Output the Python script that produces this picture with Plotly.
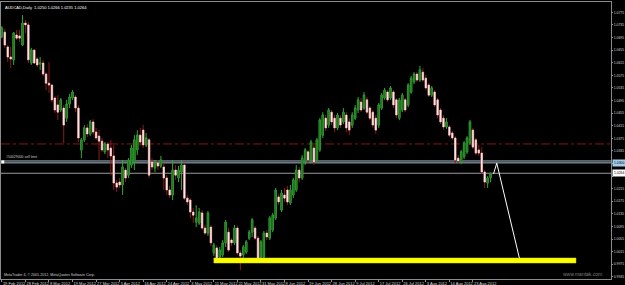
import plotly.graph_objects as go

# ---------------- data ----------------
date_labels = ["19 Feb 2012", "28 Feb 2012", "8 Mar 2012", "19 Mar 2012", "27 Mar 2012",
               "5 Apr 2012", "16 Apr 2012", "24 Apr 2012", "3 May 2012", "11 May 2012",
               "22 May 2012", "31 May 2012", "8 Jun 2012", "19 Jun 2012", "28 Jun 2012",
               "9 Jul 2012", "17 Jul 2012", "26 Jul 2012", "3 Aug 2012", "14 Aug 2012",
               "23 Aug 2012"]
date_bars = [0, 8, 16, 24, 32, 40, 48, 56, 64, 72, 80, 88, 96, 104, 112, 120, 128, 136, 144, 152, 160]

price_ticks = [1.0775, 1.0735, 1.0695, 1.0655, 1.0615, 1.0575, 1.0535, 1.0495, 1.0455, 1.0415,
               1.0375, 1.0335, 1.0295, 1.0255, 1.0215, 1.0175, 1.0135, 1.0095, 1.0055, 1.0015,
               0.9975, 0.9935]
# ticks hidden behind the order / bid price boxes on the price scale
covered_ticks = [1.0295, 1.0255]

opens = [1.0697, 1.0712, 1.0665, 1.0633, 1.0624, 1.0703, 1.0700, 1.0671, 1.0741, 1.0735,
         1.0614, 1.0655, 1.0627, 1.0611, 1.0614, 1.0579, 1.0550, 1.0544, 1.0503, 1.0481,
         1.0465, 1.0471, 1.0439, 1.0484, 1.0503, 1.0506, 1.0471, 1.0338, 1.0370, 1.0408,
         1.0389, 1.0427, 1.0395, 1.0382, 1.0366, 1.0332, 1.0357, 1.0344, 1.0319, 1.0233,
         1.0236, 1.0227, 1.0274, 1.0258, 1.0290, 1.0300, 1.0338, 1.0385, 1.0401, 1.0354,
         1.0370, 1.0300, 1.0281, 1.0297, 1.0287, 1.0284, 1.0249, 1.0211, 1.0195, 1.0274,
         1.0249, 1.0268, 1.0290, 1.0185, 1.0179, 1.0141, 1.0109, 1.0106, 1.0138, 1.0090,
         1.0074, 1.0093, 1.0011, 1.0027, 0.9998, 1.0005, 1.0043, 1.0077, 1.0052, 1.0043,
         1.0090, 1.0011, 1.0005, 1.0014, 1.0058, 1.0077, 1.0090, 1.0058, 0.9995, 0.9998,
         1.0074, 1.0058, 1.0084, 1.0122, 1.0189, 1.0147, 1.0195, 1.0211, 1.0170, 1.0195,
         1.0211, 1.0274, 1.0249, 1.0300, 1.0332, 1.0306, 1.0344, 1.0306, 1.0338, 1.0385,
         1.0439, 1.0417, 1.0458, 1.0439, 1.0408, 1.0439, 1.0427, 1.0449, 1.0427, 1.0417,
         1.0439, 1.0465, 1.0490, 1.0471, 1.0497, 1.0471, 1.0458, 1.0439, 1.0417, 1.0471,
         1.0503, 1.0522, 1.0503, 1.0522, 1.0497, 1.0439, 1.0465, 1.0497, 1.0481, 1.0522,
         1.0554, 1.0579, 1.0560, 1.0585, 1.0566, 1.0544, 1.0512, 1.0522, 1.0497, 1.0465,
         1.0439, 1.0411, 1.0411, 1.0392, 1.0376, 1.0312, 1.0300, 1.0316, 1.0332, 1.0360,
         1.0401, 1.0370, 1.0338, 1.0328, 1.0268, 1.0233, 1.0250]

highs = [1.0731, 1.0722, 1.0671, 1.0665, 1.0712, 1.0719, 1.0719, 1.0766, 1.0751, 1.0744,
         1.0662, 1.0658, 1.0633, 1.0633, 1.0624, 1.0585, 1.0617, 1.0547, 1.0509, 1.0512,
         1.0503, 1.0481, 1.0497, 1.0516, 1.0528, 1.0512, 1.0481, 1.0376, 1.0417, 1.0420,
         1.0433, 1.0436, 1.0408, 1.0401, 1.0376, 1.0363, 1.0363, 1.0370, 1.0354, 1.0243,
         1.0249, 1.0306, 1.0281, 1.0312, 1.0354, 1.0385, 1.0401, 1.0408, 1.0417, 1.0392,
         1.0376, 1.0312, 1.0306, 1.0306, 1.0319, 1.0297, 1.0258, 1.0224, 1.0306, 1.0290,
         1.0287, 1.0306, 1.0297, 1.0195, 1.0185, 1.0154, 1.0163, 1.0154, 1.0147, 1.0100,
         1.0144, 1.0100, 1.0043, 1.0036, 1.0030, 1.0052, 1.0116, 1.0090, 1.0058, 1.0100,
         1.0097, 1.0020, 1.0036, 1.0052, 1.0084, 1.0122, 1.0097, 1.0065, 1.0052, 1.0081,
         1.0084, 1.0128, 1.0138, 1.0217, 1.0198, 1.0211, 1.0217, 1.0224, 1.0227, 1.0249,
         1.0290, 1.0284, 1.0322, 1.0344, 1.0338, 1.0370, 1.0354, 1.0376, 1.0439, 1.0458,
         1.0449, 1.0471, 1.0465, 1.0449, 1.0455, 1.0449, 1.0471, 1.0458, 1.0439, 1.0458,
         1.0481, 1.0506, 1.0503, 1.0522, 1.0506, 1.0477, 1.0465, 1.0449, 1.0487, 1.0519,
         1.0535, 1.0528, 1.0541, 1.0528, 1.0503, 1.0503, 1.0519, 1.0503, 1.0550, 1.0573,
         1.0585, 1.0585, 1.0605, 1.0598, 1.0576, 1.0550, 1.0541, 1.0528, 1.0503, 1.0471,
         1.0449, 1.0439, 1.0417, 1.0398, 1.0382, 1.0322, 1.0338, 1.0366, 1.0382, 1.0433,
         1.0408, 1.0376, 1.0354, 1.0347, 1.0274, 1.0255, 1.0266]

lows = [1.0693, 1.0662, 1.0617, 1.0598, 1.0608, 1.0687, 1.0681, 1.0668, 1.0709, 1.0614,
        1.0608, 1.0611, 1.0601, 1.0592, 1.0573, 1.0528, 1.0519, 1.0490, 1.0455, 1.0433,
        1.0458, 1.0360, 1.0427, 1.0471, 1.0497, 1.0458, 1.0363, 1.0312, 1.0363, 1.0379,
        1.0382, 1.0385, 1.0370, 1.0306, 1.0332, 1.0325, 1.0312, 1.0258, 1.0211, 1.0205,
        1.0217, 1.0195, 1.0236, 1.0249, 1.0281, 1.0274, 1.0322, 1.0351, 1.0344, 1.0347,
        1.0249, 1.0274, 1.0268, 1.0274, 1.0281, 1.0211, 1.0195, 1.0185, 1.0179, 1.0243,
        1.0236, 1.0211, 1.0179, 1.0163, 1.0122, 1.0106, 1.0093, 1.0100, 1.0084, 1.0068,
        1.0065, 1.0033, 1.0001, 0.9982, 0.9989, 0.9998, 1.0030, 1.0014, 1.0033, 1.0036,
        1.0005, 0.9957, 0.9995, 1.0008, 1.0052, 1.0062, 1.0052, 0.9989, 0.9979, 0.9992,
        1.0052, 1.0052, 1.0077, 1.0116, 1.0163, 1.0141, 1.0173, 1.0163, 1.0163, 1.0185,
        1.0205, 1.0236, 1.0243, 1.0290, 1.0297, 1.0300, 1.0290, 1.0297, 1.0332, 1.0376,
        1.0398, 1.0408, 1.0417, 1.0395, 1.0401, 1.0408, 1.0420, 1.0395, 1.0385, 1.0408,
        1.0433, 1.0455, 1.0458, 1.0465, 1.0452, 1.0433, 1.0408, 1.0389, 1.0408, 1.0465,
        1.0497, 1.0490, 1.0497, 1.0471, 1.0439, 1.0433, 1.0458, 1.0458, 1.0474, 1.0516,
        1.0547, 1.0554, 1.0554, 1.0554, 1.0528, 1.0506, 1.0506, 1.0474, 1.0439, 1.0420,
        1.0401, 1.0405, 1.0379, 1.0370, 1.0297, 1.0297, 1.0293, 1.0309, 1.0325, 1.0354,
        1.0341, 1.0322, 1.0319, 1.0262, 1.0217, 1.0217, 1.0235]

closes = [1.0725, 1.0671, 1.0633, 1.0627, 1.0709, 1.0693, 1.0693, 1.0741, 1.0735, 1.0624,
          1.0655, 1.0614, 1.0608, 1.0614, 1.0579, 1.0550, 1.0544, 1.0497, 1.0465, 1.0458,
          1.0497, 1.0417, 1.0484, 1.0506, 1.0522, 1.0471, 1.0376, 1.0370, 1.0408, 1.0389,
          1.0427, 1.0395, 1.0376, 1.0366, 1.0338, 1.0357, 1.0338, 1.0319, 1.0233, 1.0220,
          1.0227, 1.0284, 1.0249, 1.0306, 1.0344, 1.0370, 1.0385, 1.0363, 1.0354, 1.0376,
          1.0258, 1.0284, 1.0297, 1.0287, 1.0306, 1.0249, 1.0211, 1.0195, 1.0274, 1.0258,
          1.0274, 1.0290, 1.0185, 1.0173, 1.0141, 1.0131, 1.0122, 1.0141, 1.0090, 1.0074,
          1.0138, 1.0043, 1.0036, 0.9995, 1.0020, 1.0043, 1.0109, 1.0020, 1.0043, 1.0090,
          1.0011, 1.0001, 1.0030, 1.0046, 1.0077, 1.0116, 1.0058, 0.9995, 1.0046, 1.0074,
          1.0062, 1.0122, 1.0131, 1.0211, 1.0173, 1.0201, 1.0185, 1.0173, 1.0211, 1.0243,
          1.0274, 1.0249, 1.0312, 1.0338, 1.0306, 1.0363, 1.0300, 1.0370, 1.0433, 1.0449,
          1.0408, 1.0465, 1.0427, 1.0408, 1.0449, 1.0417, 1.0458, 1.0408, 1.0401, 1.0449,
          1.0471, 1.0497, 1.0465, 1.0512, 1.0458, 1.0439, 1.0417, 1.0401, 1.0481, 1.0512,
          1.0528, 1.0497, 1.0535, 1.0481, 1.0449, 1.0497, 1.0512, 1.0465, 1.0544, 1.0566,
          1.0579, 1.0560, 1.0592, 1.0560, 1.0535, 1.0512, 1.0535, 1.0481, 1.0449, 1.0427,
          1.0411, 1.0427, 1.0385, 1.0376, 1.0306, 1.0303, 1.0332, 1.0360, 1.0376, 1.0427,
          1.0347, 1.0328, 1.0328, 1.0268, 1.0236, 1.0249, 1.0264]

bars = list(range(len(closes)))

resistance_level = 1.0357          # red dash-dot line
sell_limit_level = 1.0300          # pending order line
sell_limit_band = [1.0303, 1.0297]
bid_level = 1.0264
support_zone = [0.9979, 0.9995]    # yellow zone (price)
support_zone_bars = [72.0, 195.0]
projection_bars = [167.0, 168.1, 175.8]
projection_prices = [1.0262, 1.0296, 0.9994]
order_marker_bar = [0.3]
order_marker_price = [1.0300]

title_text = "AUDCAD,Daily  1.0250 1.0266 1.0235 1.0264"
order_text = "#50029400 sell limit"

# ---------------- figure ----------------
body_high = [max(o, c) for o, c in zip(opens, closes)]
body_low = [min(o, c) for o, c in zip(opens, closes)]

fig = go.Figure()
# wicks
fig.add_trace(go.Candlestick(
    x=bars, open=opens, high=highs, low=lows, close=closes,
    increasing=dict(line=dict(color="#33a833", width=1), fillcolor="#33a833"),
    decreasing=dict(line=dict(color="#8b1a1a", width=1), fillcolor="#8b1a1a"),
    hoverinfo="skip", showlegend=False))
# bodies
fig.add_trace(go.Candlestick(
    x=bars, open=opens, high=body_high, low=body_low, close=closes,
    increasing=dict(line=dict(color="#2f9a2f", width=0.6), fillcolor="#1d6a1d"),
    decreasing=dict(line=dict(color="#f3d3d3", width=0.6), fillcolor="#fff2f2"),
    hoverinfo="skip", showlegend=False))

fig.add_trace(go.Scatter(x=projection_bars, y=projection_prices, mode="lines",
                         line=dict(color="#ffffff", width=1), hoverinfo="skip", showlegend=False))
fig.add_trace(go.Scatter(x=order_marker_bar, y=order_marker_price, mode="markers",
                         marker=dict(symbol="square", size=3, color="#ffffff"),
                         hoverinfo="skip", showlegend=False))

shapes = [
    dict(type="line", xref="paper", x0=0, x1=1, yref="y", y0=resistance_level, y1=resistance_level,
         line=dict(color="#8b1414", width=1, dash="dashdot"), layer="below"),
    dict(type="line", xref="paper", x0=0, x1=1, yref="y", y0=sell_limit_band[0], y1=sell_limit_band[0],
         line=dict(color="#a9bccb", width=1), layer="below"),
    dict(type="line", xref="paper", x0=0, x1=1, yref="y", y0=sell_limit_band[1], y1=sell_limit_band[1],
         line=dict(color="#a9bccb", width=1), layer="below"),
    dict(type="line", xref="paper", x0=0, x1=1, yref="y", y0=bid_level, y1=bid_level,
         line=dict(color="#9a9a9a", width=1), layer="below"),
    dict(type="rect", xref="x", x0=support_zone_bars[0], x1=support_zone_bars[1],
         yref="y", y0=support_zone[0], y1=support_zone[1],
         fillcolor="#ffff00", line=dict(color="#d6d600", width=0.5), layer="above"),
]

annotations = [
    dict(text=title_text, xref="paper", x=0, xanchor="left", xshift=2,
         yref="paper", y=1, yanchor="top", yshift=-0.5, showarrow=False,
         font=dict(family="Liberation Sans", size=4, color="#ffffff")),
    dict(text=order_text, xref="paper", x=0, xanchor="left", xshift=3,
         yref="y", y=sell_limit_band[0], yanchor="bottom", showarrow=False,
         font=dict(family="Liberation Sans", size=3.5, color="#c8c8c8")),
    dict(text="MetaTrader 4, © 2001-2012, MetaQuotes Software Corp.", xref="paper", x=0,
         xanchor="left", xshift=1, yref="paper", y=0, yanchor="bottom", yshift=0,
         showarrow=False, font=dict(family="Liberation Sans", size=3.6, color="#d0d0d0")),
    dict(text="www.mantak.com", xref="paper", x=1, xanchor="right", xshift=-7,
         yref="paper", y=0, yanchor="bottom", yshift=0, showarrow=False,
         font=dict(family="Liberation Sans", size=5, color="#7c7c7c")),
    dict(text=f"{sell_limit_level:.4f}", xref="paper", x=1, xanchor="left", xshift=1,
         yref="y", y=sell_limit_band[1], showarrow=False, bgcolor="#a3cdea", borderpad=1,
         font=dict(family="Liberation Sans", size=3.4, color="#000000")),
    dict(text=f"{bid_level:.4f}", xref="paper", x=1, xanchor="left", xshift=1,
         yref="y", y=bid_level, showarrow=False, bgcolor="#ffffff", borderpad=1,
         font=dict(family="Liberation Sans", size=3.4, color="#000000")),
]

price_ticktext = ["" if v in covered_ticks else f"{v:.4f}" for v in price_ticks]

fig.update_layout(
    width=625, height=285,
    margin=dict(l=1, r=14, t=2, b=6, autoexpand=False),
    paper_bgcolor="#000000", plot_bgcolor="#000000",
    showlegend=False,
    shapes=shapes, annotations=annotations,
    xaxis=dict(range=[-0.3, 206.9], tickvals=date_bars, ticktext=date_labels,
               tickangle=0, automargin=False,
               ticklabelposition="outside right", ticks="outside", ticklen=2,
               tickcolor="#909090", tickfont=dict(family="Liberation Sans", size=4, color="#d8d8d8"),
               showgrid=False, zeroline=False, showline=True, linecolor="#8a8a8a",
               linewidth=1, mirror=True, rangeslider=dict(visible=False), fixedrange=True),
    yaxis=dict(side="right", range=[0.99283, 1.08077], tickvals=price_ticks,
               ticktext=price_ticktext, automargin=False, ticks="outside", ticklen=1,
               tickcolor="#909090", tickfont=dict(family="Liberation Sans", size=3.4, color="#d8d8d8"),
               showgrid=False, zeroline=False, showline=True, linecolor="#8a8a8a",
               linewidth=1, mirror=True, fixedrange=True),
)

fig.write_html("out.html")
